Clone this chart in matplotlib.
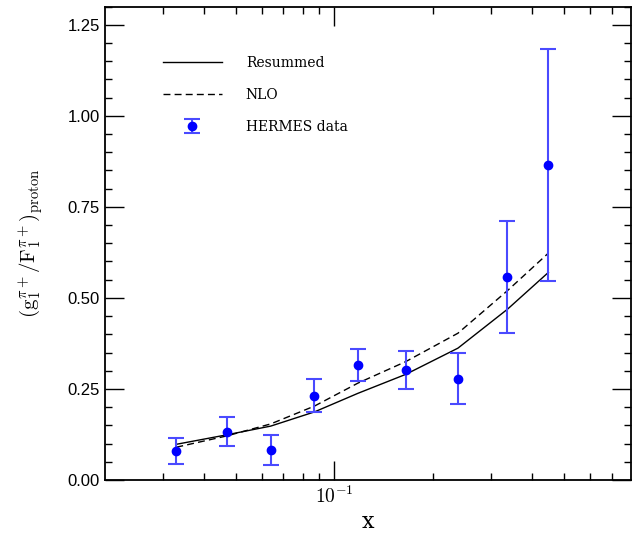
import matplotlib
matplotlib.use("Agg")
import matplotlib.pyplot as plt
from matplotlib.ticker import FixedLocator, NullFormatter, MultipleLocator

plt.rcParams["mathtext.fontset"] = "cm"

# HERMES bins (x) and measured asymmetry with errors
x_data = [0.033, 0.047, 0.064, 0.087, 0.118, 0.165, 0.238, 0.337, 0.449]
y_data = [0.080, 0.133, 0.082, 0.231, 0.316, 0.301, 0.278, 0.557, 0.865]
y_err = [0.035, 0.039, 0.041, 0.045, 0.045, 0.052, 0.070, 0.153, 0.318]

# theory curves evaluated at the same x
y_resummed = [0.098, 0.124, 0.148, 0.187, 0.238, 0.290, 0.362, 0.469, 0.570]
y_nlo = [0.090, 0.121, 0.154, 0.203, 0.266, 0.325, 0.403, 0.520, 0.623]

fig = plt.figure(figsize=(6.36, 5.35), dpi=100)
ax = fig.add_axes([0.165, 0.1028, 0.8267, 0.885])

ax.plot(x_data, y_resummed, color="black", lw=1.0, label="Resummed")
ax.plot(x_data, y_nlo, color="black", lw=1.0, ls=(0, (5, 3)), label="NLO")
ax.errorbar(x_data, y_data, yerr=y_err, fmt="o", color="#0000ff", ms=6,
            ecolor="#4a4aff", elinewidth=1.5, capsize=6, capthick=1.5,
            label="HERMES data")

ax.set_xscale("log")
ax.set_xlim(0.02, 0.8)
ax.set_ylim(0, 1.3)

ax.xaxis.set_major_locator(FixedLocator([0.1]))
ax.xaxis.set_minor_locator(FixedLocator([0.03, 0.04, 0.05, 0.06, 0.07, 0.08, 0.09,
                                         0.2, 0.3, 0.4, 0.5, 0.6, 0.7]))
ax.xaxis.set_minor_formatter(NullFormatter())
ax.set_xticklabels([r"$10^{-1}$"], fontsize=14)

ax.yaxis.set_minor_locator(MultipleLocator(0.05))
ax.set_yticks([0, 0.25, 0.5, 0.75, 1.0, 1.25])
ax.set_yticklabels(["0.00", "0.25", "0.50", "0.75", "1.00", "1.25"],
                   fontsize=12, family="Liberation Sans")

ax.tick_params(which="both", direction="in", top=True, right=True, width=1.0)
ax.tick_params(which="major", length=14)
ax.tick_params(which="minor", length=5)
ax.tick_params(axis="x", which="major", pad=4)
for sp in ax.spines.values():
    sp.set_linewidth(1.3)

ax.set_xlabel("x", fontsize=16, family="DejaVu Serif", labelpad=3)
ax.set_ylabel(r"$(\mathrm{g}_1^{\pi+}/\mathrm{F}_1^{\pi+})_{\mathrm{proton}}$",
              fontsize=15, labelpad=16)

ax.legend(loc="upper left", bbox_to_anchor=(0.087, 0.922), frameon=False,
          handlelength=4.2, handletextpad=1.75, labelspacing=1.3,
          prop={"family": "DejaVu Serif", "size": 10})

fig.savefig("out.png", dpi=100)
